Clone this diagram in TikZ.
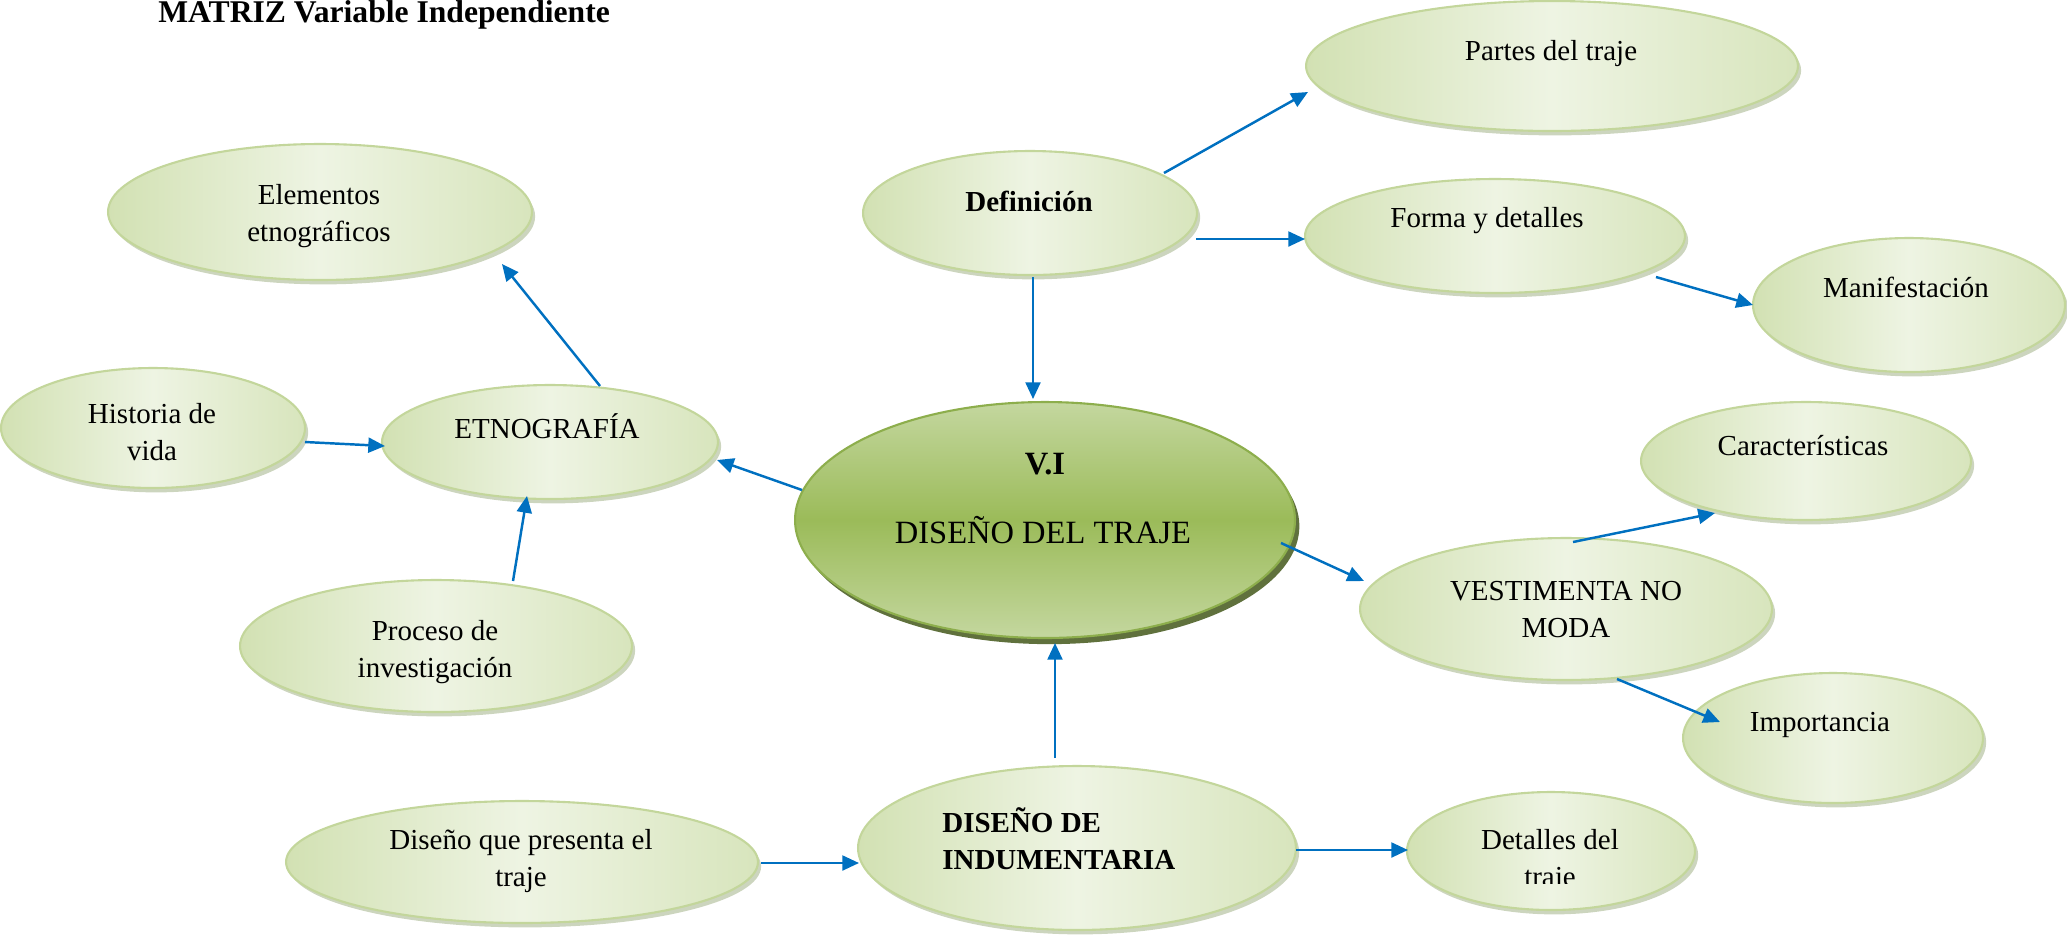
\documentclass[tikz,border=0pt]{standalone}
\usepackage{fontspec}
\setmainfont{Liberation Serif}
\usetikzlibrary{shapes.geometric,arrows.meta,shadows,calc}
\definecolor{gEdge}{HTML}{C3D69B}
\definecolor{gDark}{HTML}{D2E1B3}
\definecolor{gLight}{HTML}{EEF4E3}
\definecolor{gShadow}{HTML}{A3B288}
\definecolor{cTop}{HTML}{C4D79F}
\definecolor{cMid}{HTML}{9BBB59}
\definecolor{cEdge}{HTML}{8DAE4C}
\definecolor{cShadow}{HTML}{4F6228}
\definecolor{arrowblue}{HTML}{0070C0}
\tikzset{
  bubble/.style={ellipse, draw=gEdge, line width=1.2pt, inner sep=0pt,
    left color=gDark, right color=gDark!80!gLight, middle color=gLight,
    drop shadow={shadow xshift=1.8pt, shadow yshift=-2.5pt, fill=gShadow, opacity=0.55}},
  core/.style={ellipse, draw=cEdge, line width=1.2pt, inner sep=0pt,
    top color=cTop, bottom color=cTop, middle color=cMid,
    drop shadow={shadow xshift=2.5pt, shadow yshift=-3.5pt, fill=cShadow, opacity=0.9}},
  lbl/.style={font=\fontsize{16.5}{21}\selectfont, align=center, anchor=base, inner sep=0pt},
  biglbl/.style={font=\fontsize{18.5}{23}\selectfont, align=center, anchor=base, inner sep=0pt},
  conn/.style={draw=arrowblue, line width=1.4pt, -{Triangle[length=9.5pt,width=8.5pt]}}
}
\begin{document}
\begin{tikzpicture}[x=0.02cm, y=-0.02cm]
\path[use as bounding box] (0,0) rectangle (2067,938);

% title
\node[anchor=base west, inner sep=0pt, font=\bfseries\fontsize{18}{21}\selectfont] (title) at (158,22) {MATRIZ Variable Independiente};

% ellipses
\node[bubble, minimum width=9.84cm, minimum height=2.60cm] (partes) at (1552,66) {};
\node[bubble, minimum width=6.68cm, minimum height=2.48cm] (def) at (1030,213) {};
\node[bubble, minimum width=8.48cm, minimum height=2.72cm] (elem) at (320,212) {};
\node[bubble, minimum width=7.60cm, minimum height=2.28cm] (forma) at (1495,236) {};
\node[bubble, minimum width=6.24cm, minimum height=2.68cm] (manif) at (1909,305) {};
\node[bubble, minimum width=6.08cm, minimum height=2.40cm] (hist) at (153,428) {};
\node[bubble, minimum width=6.72cm, minimum height=2.28cm] (etno) at (550,442) {};
\node[core,   minimum width=10.0cm, minimum height=4.72cm] (central) at (1045,520) {};
\node[bubble, minimum width=6.60cm, minimum height=2.36cm] (caract) at (1806,461) {};
\node[bubble, minimum width=8.24cm, minimum height=2.84cm] (vest) at (1566,609) {};
\node[bubble, minimum width=6.00cm, minimum height=2.60cm] (imp) at (1833,738) {};
\node[bubble, minimum width=7.84cm, minimum height=2.64cm] (proc) at (436,646) {};
\node[bubble, minimum width=9.44cm, minimum height=2.44cm] (dis) at (522,862) {};
\node[bubble, minimum width=8.76cm, minimum height=3.28cm] (ind) at (1077,848) {};
\node[bubble, minimum width=5.76cm, minimum height=2.36cm] (det) at (1551,851) {};

% texts (two-line nodes: base = last line)
\node[lbl] (partestxt) at (1551,60) {Partes del traje};
\node[lbl, font=\bfseries\fontsize{16.5}{21}\selectfont] (deftxt) at (1029,211) {Definición};
\node[lbl] (elemtxt) at (319,241) {Elementos\\etnográficos};
\node[lbl] (formatxt) at (1487,227) {Forma y detalles};
\node[lbl] (maniftxt) at (1906,297) {Manifestación};
\node[lbl] (histtxt) at (152,460) {Historia de\\vida};
\node[lbl] (etnotxt) at (547,438) {ETNOGRAFÍA};
\node[biglbl, font=\bfseries\fontsize{18.5}{23}\selectfont] (vitxt) at (1045,474) {V.I};
\node[biglbl] (centraltxt) at (1043,543) {DISEÑO DEL TRAJE};
\node[lbl] (caracttxt) at (1803,455) {Características};
\node[lbl] (vesttxt) at (1566,637) {VESTIMENTA NO\\MODA};
\node[lbl] (imptxt) at (1820,731) {Importancia};
\node[lbl] (proctxt) at (435,677) {Proceso de\\investigación};
\node[lbl] (distxt) at (521,886) {Diseño que presenta el\\traje};
\node[lbl, anchor=base west, align=left, font=\bfseries\fontsize{16.5}{21}\selectfont] (indtxt) at (942,869) {DISEÑO DE\\INDUMENTARIA};
\begin{scope}
\clip (1400,790) rectangle (1700,883);
\node[lbl] (dettxt) at (1550,886) {Detalles del\\traje};
\end{scope}

% connectors
\draw[conn] ($(def.center)+(134,-40)$) -- ($(partes.center)+(-244,26)$);
\draw[conn] ($(def.center)+(166,26)$) -- ($(forma.center)+(-190,3)$);
\draw[conn] ($(def.center)+(3,64)$) -- ($(central.center)+(-12,-121)$);
\draw[conn] ($(forma.center)+(161,41)$) -- ($(manif.center)+(-156,0)$);
\draw[conn] ($(central.center)+(-243,-30)$) -- ($(etno.center)+(167,18)$);
\draw[conn] ($(etno.center)+(50,-56)$) -- ($(elem.center)+(182,52)$);
\draw[conn] ($(hist.center)+(152,14)$) -- ($(etno.center)+(-165,4)$);
\draw[conn] ($(proc.center)+(77,-65)$) -- ($(etno.center)+(-23,54)$);
\draw[conn] ($(central.center)+(236,23)$) -- ($(vest.center)+(-202,-28)$);
\draw[conn] ($(vest.center)+(7,-67)$) -- ($(caract.center)+(-91,52)$);
\draw[conn] ($(vest.center)+(51,70)$) -- ($(imp.center)+(-113,-16)$);
\draw[conn] ($(ind.center)+(-22,-90)$) -- ($(central.center)+(10,123)$);
\draw[conn] ($(dis.center)+(239,1)$) -- ($(ind.center)+(-218,15)$);
\draw[conn] ($(ind.center)+(219,2)$) -- ($(det.center)+(-143,-1)$);
\end{tikzpicture}
\end{document}
